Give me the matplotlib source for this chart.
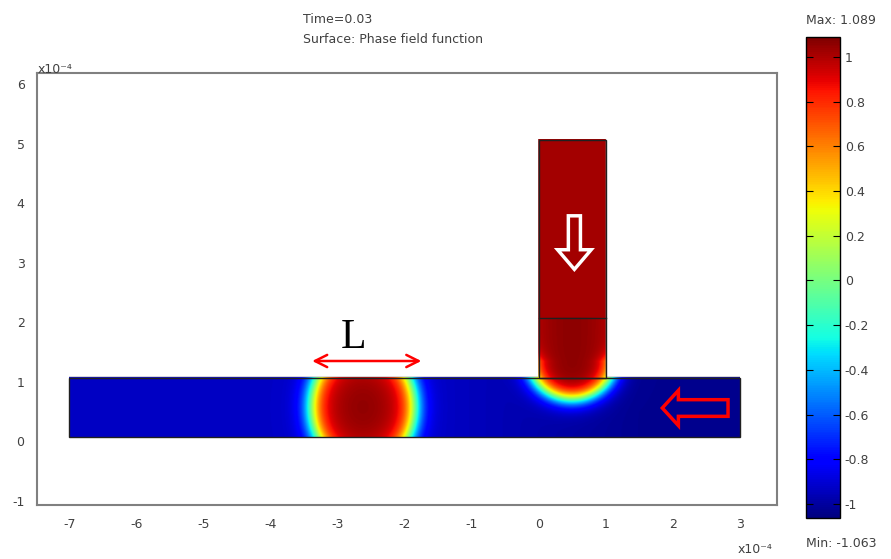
import numpy as np
import matplotlib
matplotlib.use("Agg")
import matplotlib.pyplot as plt
import matplotlib.transforms as mtrans
from matplotlib.patches import FancyArrow, Rectangle

plt.rcParams["axes.unicode_minus"] = False

# ------------------------------------------------------------
# Data (lengths in units of 1e-4 m)
# ------------------------------------------------------------
main_channel = (-7.0, 0.0, 10.0, 1.0)     # x0, y0, width, height
side_channel = (0.0, 1.0, 1.0, 4.0)
subdomain_y = 2.0

# droplet in the main channel
drop_center = (-2.62, 0.5)
drop_radii = (0.78, 1.05)
drop_core = 1.05
drop_edge = 0.85

# meniscus of the dispersed phase coming out of the side channel
meniscus_center = (0.5, 1.27)
meniscus_radius = 0.63
side_upper = 1.02
side_lower = 1.06

# continuous phase value along the main channel
bg_x = [-7.0, -1.5, 1.5, 3.0]
bg_val = [-0.93, -0.93, -1.03, -1.03]

drop_eps = 0.17
plug_eps = 0.17

phi_min = -1.063
phi_max = 1.089

x_ticks = [-7, -6, -5, -4, -3, -2, -1, 0, 1, 2, 3]
y_ticks = [-1, 0, 1, 2, 3, 4, 5, 6]
cbar_ticks = [-1.0, -0.8, -0.6, -0.4, -0.2, 0.0, 0.2, 0.4, 0.6, 0.8, 1.0]
cbar_labels = ["-1", "-0.8", "-0.6", "-0.4", "-0.2", "0", "0.2", "0.4", "0.6", "0.8", "1"]

time_label = "Time=0.03"
surface_label = "Surface: Phase field function"


# ------------------------------------------------------------
# phase field on the T-junction
# ------------------------------------------------------------
def phase_field():
    x = np.linspace(-7.0, 3.0, 1001)
    y = np.linspace(0.0, 5.0, 501)
    X, Y = np.meshgrid(x, y)

    bg = np.interp(X, bg_x, bg_val)

    # droplet
    rn = np.sqrt(((X - drop_center[0]) / drop_radii[0])**2 +
                 ((Y - drop_center[1]) / drop_radii[1])**2)
    sd_drop = (rn - 1.0) * drop_radii[0]
    inner_drop = drop_edge + (drop_core - drop_edge) * np.clip(1.0 - rn**2, 0, 1)
    w_drop = 0.5 * (1.0 + np.tanh(-sd_drop / drop_eps))

    # side channel plug with a round meniscus
    mx, my = meniscus_center
    sd_plug = np.where(
        Y < my,
        np.sqrt((X - mx)**2 + (Y - my)**2) - meniscus_radius,
        np.abs(X - mx) - meniscus_radius - 0.8 * (Y - my),
    )
    inner_plug = np.where(
        Y > subdomain_y,
        side_upper,
        side_lower - 0.06 * ((X - mx) / 0.5)**2,
    )
    w_plug = 0.5 * (1.0 + np.tanh(-sd_plug / plug_eps))

    phi = bg + (inner_drop - bg) * w_drop
    phi = phi + (inner_plug - phi) * w_plug

    x0, y0, w, h = main_channel
    in_main = (X >= x0) & (X <= x0 + w) & (Y <= y0 + h)
    sx, sy, sw, sh = side_channel
    in_side = (X >= sx) & (X <= sx + sw) & (Y >= sy) & (Y <= sy + sh)

    return np.ma.masked_where(~(in_main | in_side), phi)


def main():
    fig = plt.figure(figsize=(8.91, 5.59), dpi=100)
    ax = fig.add_axes([37 / 891, 1 - 505 / 559, 740 / 891, 432 / 559])
    cax = fig.add_axes([806 / 891, 1 - 518 / 559, 34 / 891, 481 / 559])

    phi = phase_field()
    im = ax.imshow(phi, origin="lower", extent=[-7, 3, 0, 5], cmap="jet",
                   vmin=phi_min, vmax=phi_max, aspect="auto",
                   interpolation="bilinear")

    # channel outlines
    for rx, ry, rw, rh in (main_channel, side_channel):
        ax.add_patch(Rectangle((rx, ry), rw, rh, fill=False,
                               edgecolor="#202020", linewidth=1.0))
    ax.plot([side_channel[0], side_channel[0] + side_channel[2]],
            [subdomain_y, subdomain_y], color="#202020", linewidth=1.0)

    # flow direction arrows
    ax.add_patch(FancyArrow(0.53, 3.72, 0.0, -0.9, width=0.18,
                            head_width=0.5, head_length=0.33,
                            length_includes_head=True, fill=False,
                            edgecolor="white", linewidth=2.5))
    ax.add_patch(FancyArrow(2.82, 0.49, -0.98, 0.0, width=0.28,
                            head_width=0.59, head_length=0.24,
                            length_includes_head=True, fill=False,
                            edgecolor="red", linewidth=2.5))

    # droplet length marker
    ax.annotate("", xy=(-3.42, 1.28), xytext=(-1.71, 1.28),
                arrowprops=dict(arrowstyle="<->", color="red", lw=1.8,
                                mutation_scale=22))
    ax.text(-2.76, 1.5, "L", family="Liberation Serif", fontsize=30,
            ha="center", va="baseline", color="black")

    ax.set_xlim(-7.48, 3.55)
    ax.set_ylim(-1.14, 6.12)
    ax.set_xticks(x_ticks)
    ax.set_yticks(y_ticks)
    ax.tick_params(length=0, labelsize=9, labelcolor="#404040", pad=9)
    for lab in ax.get_yticklabels():
        lab.set_transform(lab.get_transform() +
                          mtrans.ScaledTranslation(0, -4 / 100, fig.dpi_scale_trans))
    for sp in ax.spines.values():
        sp.set_color("#808080")
        sp.set_linewidth(1.5)

    cb = fig.colorbar(im, cax=cax, ticks=cbar_ticks)
    cb.ax.set_yticklabels(cbar_labels)
    cb.ax.tick_params(direction="in", length=5, left=True, right=True,
                      labelsize=9, labelcolor="#404040", color="black")
    cb.outline.set_edgecolor("black")
    cb.outline.set_linewidth(1.0)

    fs = 9
    fig.text(303 / 891, 1 - 23 / 559, time_label, fontsize=fs,
             color="#404040", va="baseline")
    fig.text(303 / 891, 1 - 43 / 559, surface_label, fontsize=fs,
             color="#404040", va="baseline")
    fig.text(806 / 891, 1 - 24 / 559, "Max: %.3f" % phi_max, fontsize=fs,
             color="#404040", va="baseline")
    fig.text(806 / 891, 1 - 547 / 559, "Min: %.3f" % phi_min, fontsize=fs,
             color="#404040", va="baseline")
    fig.text(38 / 891, 1 - 73 / 559, "x10\u207b\u2074", fontsize=fs,
             color="#404040", va="baseline")
    fig.text(738 / 891, 1 - 553 / 559, "x10\u207b\u2074", fontsize=fs,
             color="#404040", va="baseline")

    fig.savefig("out.png", dpi=100)
    plt.close(fig)


if __name__ == "__main__":
    main()
